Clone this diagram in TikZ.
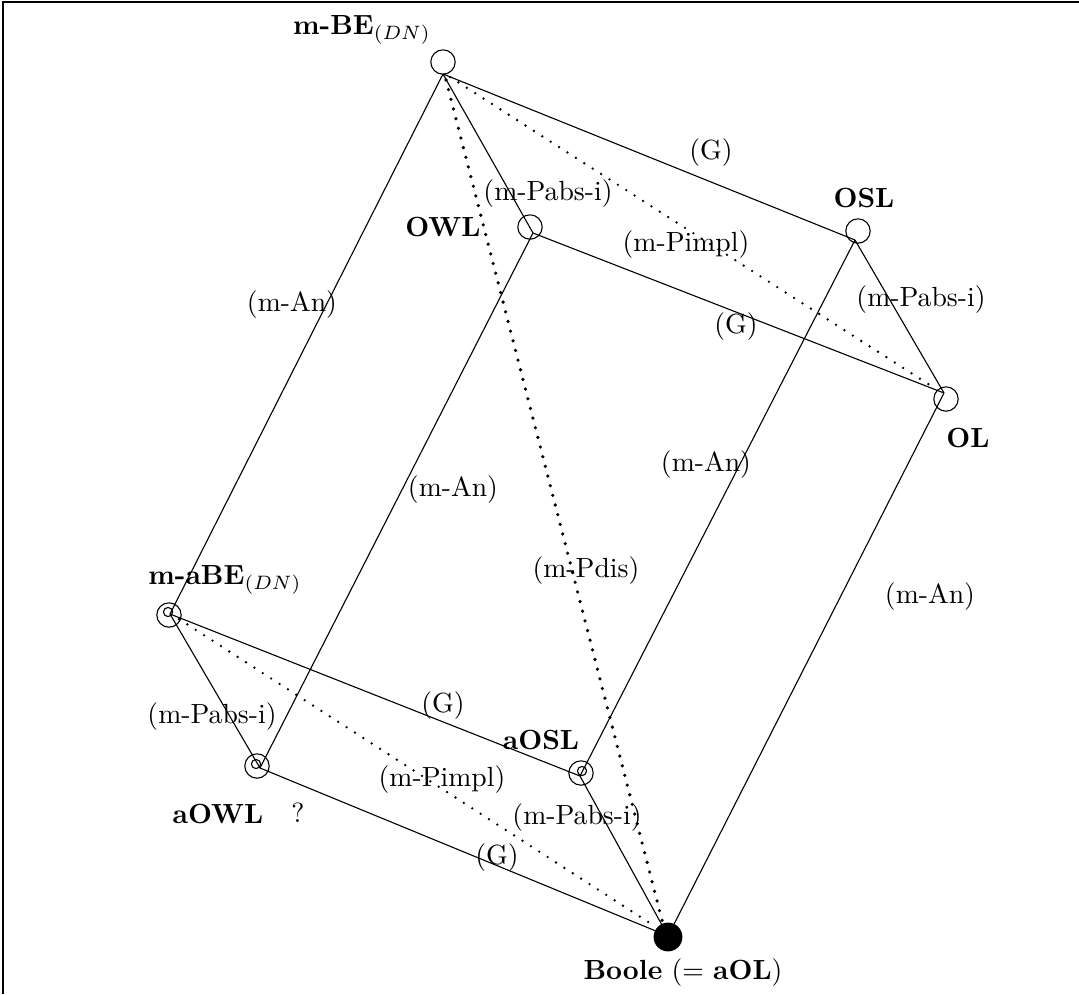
\documentclass[tikz,border=0pt]{standalone}
\begin{document}
\begin{tikzpicture}[x=0.361pt,y=-0.361pt,
  vtx/.style={circle,draw,inner sep=0pt,minimum size=8.8pt,line width=0.4pt},
  innerc/.style={circle,draw,inner sep=0pt,minimum size=3.3pt,line width=0.4pt},
  boole/.style={circle,fill=black,inner sep=0pt,minimum size=10.4pt},
  edge/.style={line width=0.4pt},
  dots/.style={line width=0.95pt,line cap=round,dash pattern=on 0pt off 3.6pt},
  bigdots/.style={line width=1.3pt,line cap=round,dash pattern=on 0pt off 3.6pt},
  lbl/.style={inner sep=0pt}]
\useasboundingbox (0,0) rectangle (1079,994);
\draw[line width=0.55pt] (3,994) -- (3,2) -- (1079,2);
% vertex points
\coordinate (BE) at (443,74);
\coordinate (OWL) at (533,233);
\coordinate (OSL) at (855,240);
\coordinate (OL) at (944,393);
\coordinate (aBE) at (170,614);
\coordinate (aOWL) at (260,768);
\coordinate (aOSL) at (580,776);
\coordinate (B) at (668,936);
% solid edges
\draw[edge] (BE) -- (aBE);
\draw[edge] (BE) -- (OWL);
\draw[edge] (BE) -- (OSL);
\draw[edge] (OWL) -- (OL);
\draw[edge] (OWL) -- (aOWL);
\draw[edge] (OSL) -- (OL);
\draw[edge] (OSL) -- (aOSL);
\draw[edge] (OL) -- (B);
\draw[edge] (aBE) -- (aOWL);
\draw[edge] (aBE) -- (aOSL);
\draw[edge] (aOWL) -- (B);
\draw[edge] (aOSL) -- (B);
% dotted edges
\draw[dots] ([shift={(7,3)}]BE) -- ([shift={(-8,-4)}]OL);
\draw[bigdots] ([shift={(3,6)}]BE) -- ([shift={(-4,-8)}]B);
\draw[dots] ([shift={(9,5)}]aBE) -- ([shift={(-12,-9)}]B);
% circles
\node[vtx] (cBE) at (443,62) {};
\node[vtx] (cOWL) at (530,227) {};
\node[vtx] (cOSL) at (858,231) {};
\node[vtx] (cOL) at (946,399) {};
\node[vtx] (caBE) at (169,615) {};
\node[innerc] (iaBE) at (168,612) {};
\node[vtx] (caOWL) at (257,766) {};
\node[innerc] (iaOWL) at (256,764) {};
\node[vtx] (caOSL) at (581,773) {};
\node[innerc] (iaOSL) at (582,771) {};
\node[boole] (cB) at (668,937) {};
% node labels
\node[lbl] (tBE) at (362,30) {\textbf{m-BE}$_{(DN)}$};
\node[lbl] (tOWL) at (443,227) {\textbf{OWL}};
\node[lbl] (tOSL) at (864,198) {\textbf{OSL}};
\node[lbl] (tOL) at (968,438) {\textbf{OL}};
\node[lbl] (taBE) at (225,580) {\textbf{m-aBE}$_{(DN)}$};
\node[lbl] (taOSL) at (541,740) {\textbf{aOSL}};
\node[lbl] (taOWL) at (218,814) {\textbf{aOWL}};
\node[lbl] (tq) at (298,813) {?};
\node[lbl] (tB) at (683,973) {\textbf{Boole} (= \textbf{aOL})};
% edge labels
\node[lbl] (l1) at (711,153) {(G)};
\node[lbl] (l2) at (548,194) {(m-Pabs-i)};
\node[lbl] (l3) at (686,245) {(m-Pimpl)};
\node[lbl] (l4) at (921,300) {(m-Pabs-i)};
\node[lbl] (l5) at (292,305) {(m-An)};
\node[lbl] (l6) at (736,327) {(G)};
\node[lbl] (l7) at (706,465) {(m-An)};
\node[lbl] (l8) at (453,490) {(m-An)};
\node[lbl] (l9) at (586,571) {(m-Pdis)};
\node[lbl] (l10) at (930,597) {(m-An)};
\node[lbl] (l11) at (443,706) {(G)};
\node[lbl] (l12) at (212,717) {(m-Pabs-i)};
\node[lbl] (l13) at (442,780) {(m-Pimpl)};
\node[lbl] (l14) at (577,818) {(m-Pabs-i)};
\node[lbl] (l15) at (497,858) {(G)};
\end{tikzpicture}
\end{document}
